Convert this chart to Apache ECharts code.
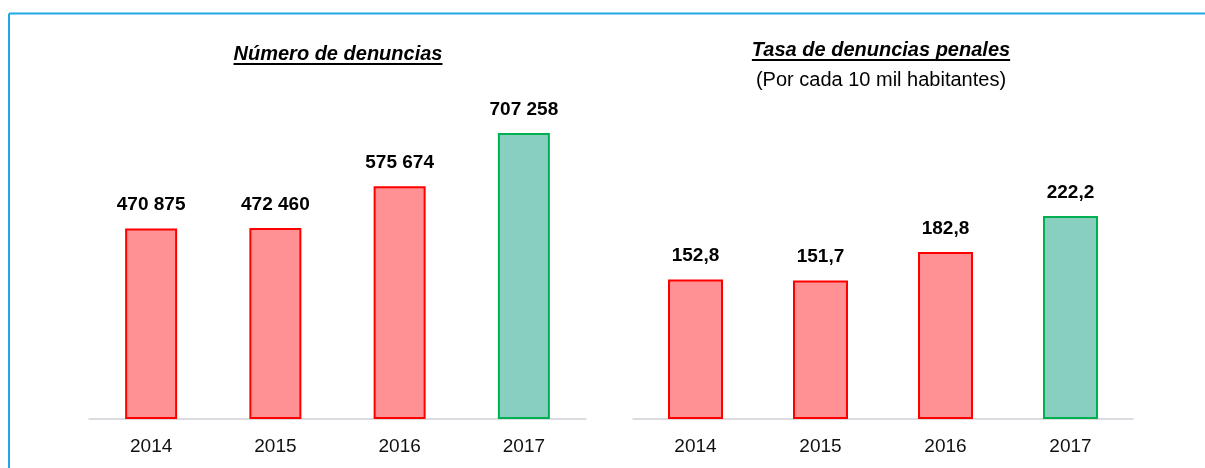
<!DOCTYPE html>
<html>
<head>
<meta charset="utf-8">
<script src="https://cdn.jsdelivr.net/npm/echarts@6/dist/echarts.min.js"></script>
<style>
  html, body { margin: 0; padding: 0; background: #fff; }
  #chart { width: 1205px; height: 468px; }
</style>
</head>
<body>
<div id="chart"></div>
<script>
// datos
const years = ['2014', '2015', '2016', '2017'];
const denuncias = [470875, 472460, 575674, 707258];
const tasa = [152.8, 151.7, 182.8, 222.2];
const barFill = ['#ff9194', '#ff9194', '#ff9194', '#88cfbf'];
const barBorder = ['#ff0000', '#ff0000', '#ff0000', '#00b050'];

const FONT = '"Liberation Sans", Arial, sans-serif';

// ancho del texto para el subrayado
function textWidth(txt, font) {
  const ctx = document.createElement('canvas').getContext('2d');
  ctx.font = font;
  return ctx.measureText(txt).width;
}

function items(values) {
  return values.map((v, i) => ({
    value: v,
    itemStyle: {color: barFill[i], borderColor: barBorder[i], borderWidth: 2}
  }));
}

function underlinedTitle(txt, cx, cy) {
  const font = 'italic bold 20px ' + FONT;
  const w = textWidth(txt, font);
  return [
    {type: 'text', left: cx - w / 2, top: cy - 11, style: {text: txt, fill: '#000', font: font}},
    {type: 'rect', shape: {x: cx - w / 2, y: cy + 8, width: w, height: 2}, style: {fill: '#000'}}
  ];
}

function centeredText(txt, cx, top, font) {
  const w = textWidth(txt, font);
  return {type: 'text', left: cx - w / 2, top: top, style: {text: txt, fill: '#000', font: font}};
}

const chart = echarts.init(document.getElementById('chart'));

const axisCommon = {
  type: 'category',
  axisTick: {show: false},
  axisLine: {lineStyle: {color: '#d0d0d8', width: 1.5}},
  axisLabel: {color: '#111', fontFamily: FONT, fontSize: 19, margin: 18}
};

const labelCommon = {
  show: true, position: 'top', distance: 14,
  color: '#000', fontWeight: 'bold', fontFamily: FONT, fontSize: 19
};

chart.setOption({
  backgroundColor: '#fff',
  animation: false,
  grid: [
    {left: 89, width: 497, top: 95.5, height: 323.5},
    {left: 633, width: 500, top: 190.6, height: 228.4}
  ],
  xAxis: [
    Object.assign({gridIndex: 0, data: years}, axisCommon),
    Object.assign({gridIndex: 1, data: years}, axisCommon)
  ],
  yAxis: [
    {gridIndex: 0, type: 'value', min: 0, max: 800000, show: false, splitLine: {show: false}},
    {gridIndex: 1, type: 'value', min: 0, max: 250, show: false, splitLine: {show: false}}
  ],
  series: [
    {
      type: 'bar', xAxisIndex: 0, yAxisIndex: 0, barWidth: 52,
      data: items(denuncias),
      label: Object.assign({
        formatter: p => String(p.value).replace(/\B(?=(\d{3})+(?!\d))/g, ' ')
      }, labelCommon)
    },
    {
      type: 'bar', xAxisIndex: 1, yAxisIndex: 1, barWidth: 55,
      data: items(tasa),
      label: Object.assign({
        formatter: p => p.value.toFixed(1).replace('.', ',')
      }, labelCommon)
    }
  ],
  graphic: [
    // marco azul
    {type: 'line', shape: {x1: 9, y1: 13.5, x2: 1205, y2: 13.5}, style: {stroke: '#1ea9e6', lineWidth: 2}},
    {type: 'line', shape: {x1: 9, y1: 13.5, x2: 9, y2: 468}, style: {stroke: '#1ea9e6', lineWidth: 2}},
    ...underlinedTitle('Número de denuncias', 338, 55),
    ...underlinedTitle('Tasa de denuncias penales', 881, 51),
    centeredText('(Por cada 10 mil habitantes)', 881, 70, '20px ' + FONT)
  ]
});
</script>
</body>
</html>
